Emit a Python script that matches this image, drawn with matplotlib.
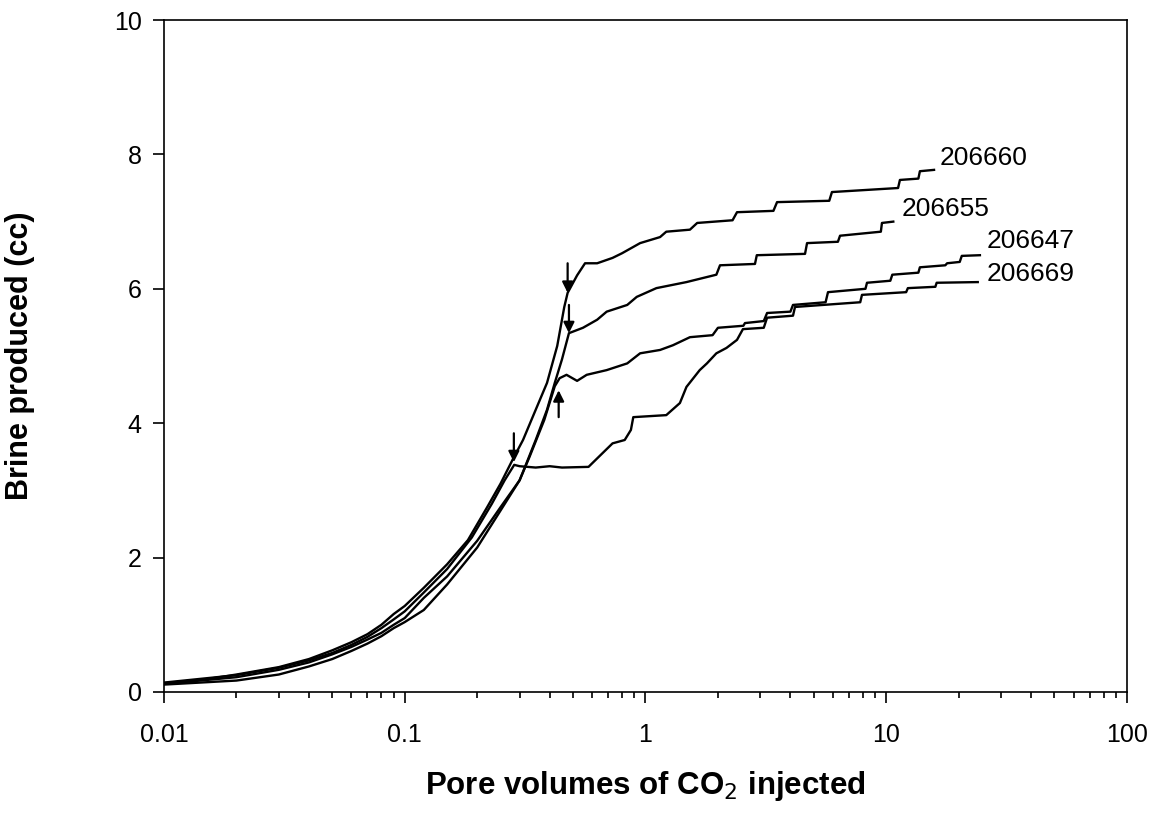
# Brine produced vs pore volumes of CO2 injected, four cores
import matplotlib
matplotlib.use('Agg')
import matplotlib.pyplot as plt
from matplotlib.ticker import LogLocator, NullFormatter

plt.rcParams['font.family'] = ['Liberation Sans', 'DejaVu Sans']

# curve data (x = pore volumes, y = brine in cc)
x_206660 = [0.01, 0.015, 0.02, 0.03, 0.04, 0.05, 0.06, 0.07, 0.08, 0.09, 0.1, 0.12, 0.15, 0.183, 0.22,
            0.25, 0.28, 0.31, 0.35, 0.39, 0.43, 0.46, 0.475, 0.52, 0.561, 0.63, 0.73, 0.80, 0.95, 1.15,
            1.22, 1.53, 1.64, 2.30, 2.40, 3.4, 3.52, 5.8, 5.95, 11.2, 11.4, 13.6, 13.8, 15.8]
y_206660 = [0.13, 0.19, 0.26, 0.37, 0.49, 0.62, 0.74, 0.86, 1.0, 1.16, 1.28, 1.55, 1.9, 2.26, 2.75,
            3.1, 3.45, 3.75, 4.2, 4.6, 5.15, 5.73, 5.94, 6.2, 6.38, 6.38, 6.46, 6.53, 6.68, 6.77,
            6.85, 6.88, 6.98, 7.02, 7.14, 7.16, 7.29, 7.31, 7.44, 7.50, 7.62, 7.64, 7.75, 7.77]

x_206655 = [0.01, 0.02, 0.03, 0.04, 0.05, 0.06, 0.07, 0.08, 0.09, 0.1, 0.12, 0.15, 0.2, 0.25, 0.3,
            0.316, 0.35, 0.39, 0.42, 0.45, 0.481, 0.55, 0.63, 0.69, 0.84, 0.92, 1.11, 1.48, 1.97,
            2.04, 2.85, 2.90, 4.6, 4.69, 6.3, 6.43, 9.5, 9.6, 10.7]
y_206655 = [0.12, 0.22, 0.33, 0.44, 0.56, 0.67, 0.78, 0.88, 1.0, 1.1, 1.40, 1.72, 2.25, 2.75, 3.15,
            3.35, 3.75, 4.2, 4.6, 4.95, 5.34, 5.42, 5.54, 5.66, 5.76, 5.88, 6.01, 6.10, 6.21,
            6.35, 6.37, 6.50, 6.52, 6.68, 6.70, 6.79, 6.85, 6.98, 7.0]

x_206647 = [0.01, 0.02, 0.03, 0.04, 0.05, 0.06, 0.07, 0.08, 0.09, 0.1, 0.12, 0.15, 0.2, 0.25, 0.3,
            0.33, 0.38, 0.42, 0.44, 0.47, 0.52, 0.57, 0.69, 0.84, 0.95, 1.15, 1.30, 1.53, 1.90, 2.0,
            2.55, 2.59, 3.1, 3.2, 4.0, 4.1, 5.6, 5.73, 8.2, 8.32, 10.4, 10.6, 13.6, 13.8, 17.6, 17.9,
            20.2, 20.6, 24.5]
y_206647 = [0.11, 0.17, 0.26, 0.38, 0.49, 0.61, 0.72, 0.83, 0.95, 1.04, 1.22, 1.6, 2.15, 2.7, 3.15,
            3.5, 4.05, 4.55, 4.67, 4.72, 4.63, 4.72, 4.79, 4.89, 5.04, 5.09, 5.16, 5.28, 5.31, 5.42,
            5.45, 5.49, 5.52, 5.64, 5.66, 5.76, 5.80, 5.95, 6.0, 6.09, 6.12, 6.21, 6.24, 6.32, 6.35, 6.38,
            6.40, 6.49, 6.50]

x_206669 = [0.01, 0.02, 0.03, 0.04, 0.05, 0.06, 0.07, 0.08, 0.09, 0.1, 0.12, 0.15, 0.19, 0.23, 0.26,
            0.285, 0.30, 0.35, 0.40, 0.45, 0.58, 0.64, 0.73, 0.82, 0.87, 0.89, 1.22, 1.39, 1.48, 1.68,
            1.80, 1.97, 2.17, 2.40, 2.54, 3.1, 3.2, 4.1, 4.18, 7.8, 7.93, 12.1, 12.3, 16.0, 16.2, 24.0]
y_206669 = [0.14, 0.25, 0.36, 0.47, 0.58, 0.70, 0.82, 0.95, 1.08, 1.2, 1.48, 1.83, 2.3, 2.8, 3.15,
            3.38, 3.36, 3.34, 3.36, 3.34, 3.35, 3.50, 3.70, 3.75, 3.90, 4.09, 4.12, 4.30, 4.54, 4.79,
            4.89, 5.04, 5.12, 5.24, 5.40, 5.42, 5.57, 5.60, 5.73, 5.80, 5.91, 5.95, 6.01, 6.03, 6.09, 6.10]

curves = {'206660': (x_206660, y_206660), '206655': (x_206655, y_206655),
          '206647': (x_206647, y_206647), '206669': (x_206669, y_206669)}

# label positions (left edge x, centre y)
label_pos = {'206660': (16.7, 7.95), '206655': (11.6, 7.19),
             '206647': (26.2, 6.71), '206669': (26.2, 6.22)}

# breakthrough arrows: (x, tail y, tip y)
arrows = [(0.475, 6.38, 5.94), (0.481, 5.76, 5.34), (0.436, 4.09, 4.49), (0.284, 3.85, 3.42)]

xticks = [0.01, 0.1, 1, 10, 100]
xtick_labels = ['0.01', '0.1', '1', '10', '100']
yticks = [0, 2, 4, 6, 8, 10]

fig = plt.figure(figsize=(11.58, 8.14), dpi=100)
ax = fig.add_axes([0.1416, 0.1499, 0.8316, 0.8255])

for name, (xs, ys) in curves.items():
    ax.plot(xs, ys, color='black', lw=1.7)
    lx, ly = label_pos[name]
    ax.text(lx, ly, name, fontsize=19, ha='left', va='center')

for ax_x, tail, tip in arrows:
    ax.annotate('', xy=(ax_x, tip), xytext=(ax_x, tail),
                arrowprops=dict(arrowstyle='-|>', color='black', lw=1.6, mutation_scale=16,
                                shrinkA=0, shrinkB=0))

ax.set_xscale('log')
ax.set_xlim(0.01, 100)
ax.set_ylim(0, 10)
ax.set_xticks(xticks)
ax.set_xticklabels(xtick_labels)
ax.xaxis.set_minor_locator(LogLocator(base=10, subs=range(2, 10)))
ax.xaxis.set_minor_formatter(NullFormatter())
ax.set_yticks(yticks)

ax.tick_params(axis='both', which='major', direction='out', length=8, width=1.2, labelsize=18)
ax.tick_params(axis='x', which='major', pad=14)
ax.tick_params(axis='y', which='major', pad=8)
ax.tick_params(axis='x', which='minor', direction='out', length=4.5, width=1.2)
for s in ax.spines.values():
    s.set_linewidth(1.2)

ax.set_xlabel('Pore volumes of CO$_2$ injected', fontsize=22.5, fontweight='bold', labelpad=16)
ax.set_ylabel('Brine produced (cc)', fontsize=22, fontweight='bold')
ax.yaxis.set_label_coords(-0.134, 0.5)

fig.savefig('out.png', dpi=100)
